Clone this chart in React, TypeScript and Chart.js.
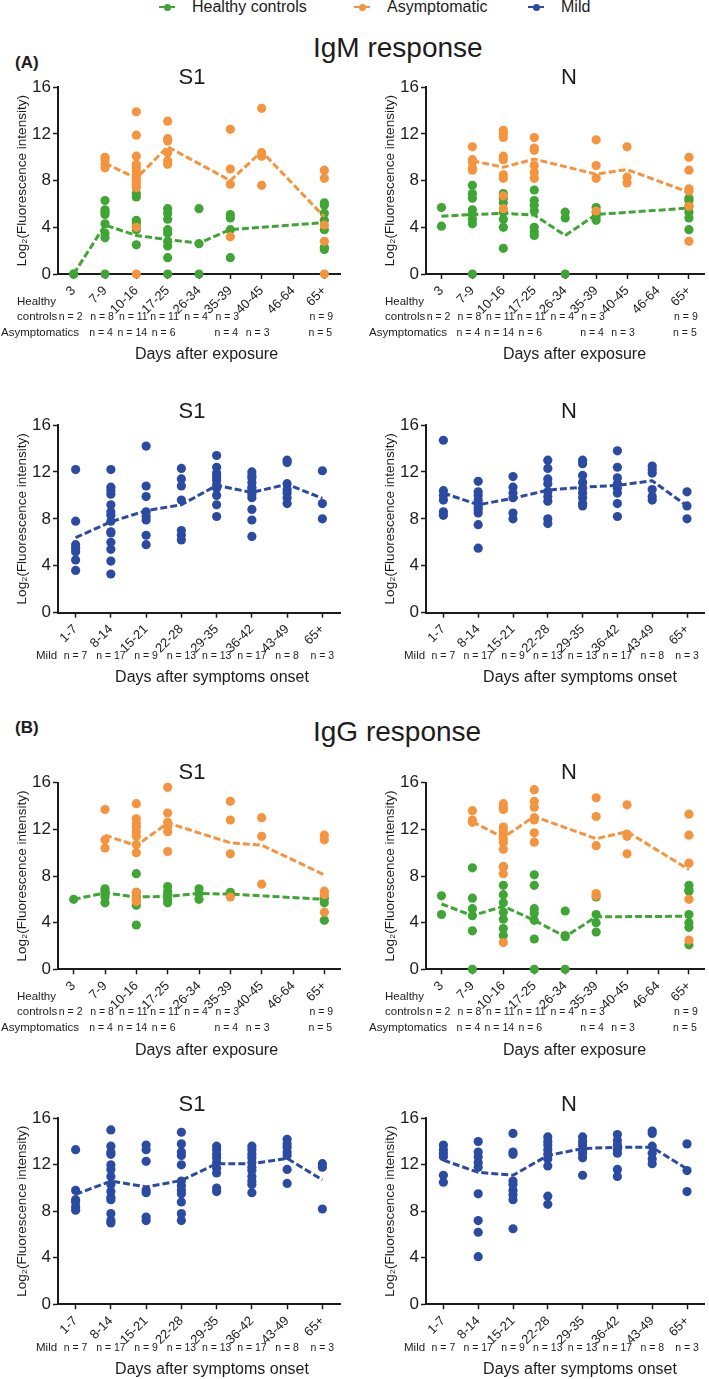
import React, { useEffect, useRef } from 'react';
import { Chart, registerables } from 'chart.js';

Chart.register(...registerables);

const FONT = 'Arial, "Liberation Sans", Helvetica, sans-serif';
const INK = '#1c1c1c';
const GREEN = '#3fa535';
const ORANGE = '#f5943f';
const BLUE = '#2b4ba2';

// ---------- categories & labels ----------
const exposureDays = ['3', '7-9', '10-16', '17-25', '26-34', '35-39', '40-45', '46-64', '65+'];
const onsetDays = ['1-7', '8-14', '15-21', '22-28', '29-35', '36-42', '43-49', '65+'];
const healthyN = ['n = 2', 'n = 8', 'n = 11', 'n = 11', 'n = 4', 'n = 3', '', '', 'n = 9'];
const asymptomaticN = ['', 'n = 4', 'n = 14', 'n = 6', '', 'n = 4', 'n = 3', '', 'n = 5'];
const mildN = ['n = 7', 'n = 17', 'n = 9', 'n = 13', 'n = 13', 'n = 17', 'n = 8', 'n = 3'];
const yTicks = [0, 4, 8, 12, 16];
const legendNames = ['Healthy controls', 'Asymptomatic', 'Mild'];

// ---------- IgM, S1, days after exposure ----------
const igmS1Healthy = [[0, 0], [6.3, 5.5, 5.3, 5.1, 4.3, 3.5, 3.1, 0], [6.9, 6.6, 4.6, 4.4, 4.1, 3.8, 2.5], [5.6, 5.2, 4.7, 3.8, 3.5, 2.8, 2.4, 1.4, 0], [5.6, 2.6, 0], [5.1, 4.8, 3.8, 1.4], [], [], [6.1, 5.9, 5.2, 4.6, 3.8, 2.3, 2.1]];
const igmS1HealthyMean = [0, 4.2, 3.3, 2.95, 2.65, 3.8, null, null, 4.4];
const igmS1Asym = [[], [10.0, 9.8, 9.4, 9.1], [13.9, 11.9, 10.1, 9.4, 9.1, 8.8, 8.5, 8.2, 7.9, 7.6, 7.4, 4.0, 0], [13.1, 11.6, 11.4, 10.4, 9.7, 9.4], [], [12.4, 9.0, 7.7, 3.2], [14.2, 10.4, 10.1, 7.6], [], [8.9, 8.2, 4.2, 2.8, 0]];
const igmS1AsymMean = [null, 9.5, 8.2, 10.9, null, 8.0, 10.5, null, 4.9];

// ---------- IgM, N, days after exposure ----------
const igmNHealthy = [[5.7, 4.1], [7.6, 6.9, 6.5, 5.5, 5.1, 4.7, 4.3, 0], [6.9, 6.5, 6.1, 5.3, 4.7, 4.0, 2.2], [7.2, 6.3, 5.9, 5.4, 4.0, 3.6, 3.3], [5.3, 4.8, 0], [5.7, 5.3, 4.9, 4.6], [], [], [6.5, 6.3, 5.8, 5.3, 4.8, 3.8]];
const igmNHealthyMean = [4.95, 5.1, 5.2, 5.05, 3.3, 5.1, null, null, 5.65];
const igmNAsym = [[], [10.9, 9.8, 9.6, 9.1, 8.9], [12.3, 12.0, 11.7, 10.1, 9.8, 8.5, 8.2, 6.7, 5.6], [11.7, 10.8, 10.6, 9.3, 8.7, 8.2], [], [11.5, 9.3, 8.2, 5.4], [10.9, 8.3, 7.8], [], [10.0, 8.9, 7.3, 7.1, 5.8, 2.8]];
const igmNAsymMean = [null, 9.7, 9.15, 9.85, null, 8.55, 8.95, null, 7.0];

// ---------- IgM, mild, days after onset ----------
const igmS1Mild = [[12.2, 7.8, 5.8, 5.5, 5.2, 4.5, 3.6], [12.2, 10.7, 10.4, 10.1, 9.2, 8.6, 8.3, 7.8, 6.9, 6.8, 6.0, 5.4, 4.4, 3.3], [14.2, 10.8, 9.9, 8.6, 8.2, 7.9, 6.6, 5.8], [12.3, 11.4, 10.8, 9.6, 7.0, 6.6, 6.2], [13.4, 12.4, 11.9, 11.6, 11.3, 10.9, 10.6, 10.0, 9.2, 8.2], [12.0, 11.7, 11.5, 11.1, 10.7, 10.5, 10.1, 9.8, 8.8, 7.9, 6.5], [13.0, 12.8, 11.0, 10.5, 10.2, 9.8, 9.3], [12.1, 9.3, 8.0]];
const igmS1MildMean = [6.4, 7.75, 8.7, 9.2, 10.85, 10.25, 10.95, 9.75];
const igmNMild = [[14.7, 10.4, 10.0, 9.6, 8.6, 8.3], [11.2, 10.3, 10.0, 9.6, 9.3, 9.0, 8.8, 8.5, 7.5, 5.5], [11.6, 10.7, 10.2, 9.8, 8.5, 8.0], [13.0, 12.3, 11.4, 11.0, 10.3, 9.9, 9.5, 8.0, 7.6], [13.0, 12.7, 11.7, 11.1, 10.6, 10.2, 9.8, 9.3, 9.1], [13.8, 12.4, 11.5, 11.0, 10.6, 10.2, 9.3, 8.2], [12.5, 12.2, 11.9, 10.5, 9.9, 9.6], [10.3, 9.1, 8.0]];
const igmNMildMean = [10.2, 9.2, 9.75, 10.45, 10.7, 10.85, 11.25, 9.1];

// ---------- IgG, S1, days after exposure ----------
const iggS1Healthy = [[6.0], [6.9, 6.7, 6.5, 6.2, 5.7], [8.2, 6.6, 6.2, 5.9, 5.5, 3.8], [7.1, 6.7, 6.4, 6.0, 5.7], [6.9, 6.5, 6.0], [6.6], [], [], [6.1, 5.7, 4.2]];
const iggS1HealthyMean = [6.0, 6.55, 6.2, 6.25, 6.5, 6.45, null, null, 6.0];
const iggS1Asym = [[], [13.7, 11.1, 10.4], [14.2, 12.9, 12.5, 12.2, 11.8, 11.4, 10.7, 10.0, 6.6, 6.1, 5.8], [15.6, 13.4, 12.6, 12.2, 11.8, 10.1], [], [14.4, 12.8, 9.9, 6.2], [13.0, 11.4, 7.3], [], [11.5, 11.1, 6.7, 6.4, 4.9]];
const iggS1AsymMean = [null, 11.5, 10.6, 12.55, null, 10.85, 10.65, null, 8.1];

// ---------- IgG, N, days after exposure ----------
const iggNHealthy = [[6.3, 4.7], [8.7, 6.1, 5.2, 4.6, 3.3, 0], [8.8, 7.2, 6.4, 5.7, 4.9, 4.3, 3.5, 2.9], [8.1, 7.2, 5.2, 4.8, 4.2, 2.6, 0], [5.0, 2.9, 2.8, 0], [6.2, 4.7, 4.0, 3.2], [], [], [7.2, 6.8, 6.7, 4.7, 4.0, 3.6, 2.1]];
const iggNHealthyMean = [5.6, 4.6, 5.4, 4.2, 2.8, 4.5, null, null, 4.55];
const iggNAsym = [[], [13.6, 12.8, 12.6], [14.2, 13.9, 13.7, 12.2, 11.9, 11.6, 11.2, 10.9, 10.3, 8.8, 8.2, 2.3], [15.4, 14.4, 13.9, 13.0, 12.8, 11.7, 10.9], [], [14.7, 13.1, 10.6, 6.5, 6.3], [14.1, 11.6, 11.4, 9.9], [], [13.3, 11.5, 9.1, 6.0, 2.5]];
const iggNAsymMean = [null, 12.65, 11.3, 13.1, null, 11.2, 11.8, null, 8.55];

// ---------- IgG, mild, days after onset ----------
const iggS1Mild = [[13.3, 9.8, 9.0, 8.8, 8.4, 8.1], [15.0, 13.6, 13.1, 12.9, 12.0, 11.6, 11.0, 10.3, 9.7, 9.2, 9.0, 7.8, 7.2, 7.0], [13.7, 13.3, 12.3, 9.8, 9.6, 7.5, 7.2], [14.8, 13.8, 13.1, 12.8, 12.0, 10.6, 10.2, 9.8, 9.5, 8.8, 7.8, 7.2], [13.6, 13.3, 12.9, 12.6, 12.2, 11.7, 11.3, 10.0, 9.7], [13.6, 13.3, 12.9, 12.6, 12.2, 11.8, 11.5, 11.0, 10.6, 10.3, 9.6], [14.2, 13.8, 13.5, 13.1, 12.8, 11.6, 10.4], [12.1, 11.8, 8.2]];
const iggS1MildMean = [9.45, 10.6, 10.1, 10.65, 12.1, 12.1, 12.55, 10.7];
const iggNMild = [[13.7, 13.3, 13.0, 12.7, 11.1, 10.5], [14.0, 13.1, 12.7, 12.2, 11.8, 9.5, 7.2, 6.2, 4.1], [14.7, 13.1, 12.9, 10.6, 10.3, 9.8, 9.4, 9.0, 6.5], [14.4, 14.0, 13.7, 13.3, 12.9, 12.5, 11.9, 9.3, 8.6], [14.4, 14.0, 13.7, 13.3, 13.0, 12.6, 11.1], [14.6, 14.1, 13.7, 13.3, 13.0, 11.6, 11.0], [14.9, 14.7, 13.6, 13.0, 12.5, 12.1], [13.8, 11.5, 9.7]];
const iggNMildMean = [12.4, 11.35, 11.1, 12.8, 13.4, 13.5, 13.5, 11.65];

// ---------- layout ----------
type Group = { color: string; dots: number[][]; mean: (number | null)[] };
type Row = { lines: string[]; n: string[]; dx: number; dy: number; shift: number };
type Panel = {
  title: string; labels: string[]; groups: Group[]; rows: Row[]; xTitle: string;
  box: number[]; area: number[]; titleX: number; titleY: number; xTitleDX: number; xTitleDY: number;
};

const exposureRows: Row[] = [
  { lines: ['Healthy', 'controls'], n: healthyN, dx: -41, dy: 43, shift: -3 },
  { lines: ['Asymptomatics'], n: asymptomaticN, dx: -57, dy: 59, shift: -4 },
];
const mildRows: Row[] = [{ lines: ['Mild'], n: mildN, dx: -22, dy: 43.5, shift: 0 }];

const COLS = [
  { x: 0, w: 354, left: 58, right: 340, titleX: 192 },
  { x: 354, w: 355, left: 426, right: 708, titleX: 569 },
];
const ROWS = [
  { top: 60, h: 306, areaTop: 87.3, areaBottom: 274, titleY: 78 },
  { top: 395, h: 292, areaTop: 425, areaBottom: 612.7, titleY: 412 },
  { top: 752, h: 308, areaTop: 782.7, areaBottom: 969.3, titleY: 773 },
  { top: 1090, h: 289, areaTop: 1118.3, areaBottom: 1304.3, titleY: 1105 },
];

function panel(r: number, c: number, title: string, exposure: boolean, groups: Group[]): Panel {
  const row = ROWS[r];
  const col = COLS[c];
  return {
    title,
    labels: exposure ? exposureDays : onsetDays,
    groups,
    rows: exposure ? exposureRows : mildRows,
    xTitle: exposure ? 'Days after exposure' : 'Days after symptoms onset',
    box: [col.x, row.top, col.w, row.h],
    area: [col.left, row.areaTop, col.right, row.areaBottom],
    titleX: col.titleX,
    titleY: row.titleY,
    xTitleDX: exposure ? 7.5 : 13,
    xTitleDY: exposure ? 81 : 65,
  };
}

const PANELS: Panel[] = [
  panel(0, 0, 'S1', true, [
    { color: GREEN, dots: igmS1Healthy, mean: igmS1HealthyMean },
    { color: ORANGE, dots: igmS1Asym, mean: igmS1AsymMean },
  ]),
  panel(0, 1, 'N', true, [
    { color: GREEN, dots: igmNHealthy, mean: igmNHealthyMean },
    { color: ORANGE, dots: igmNAsym, mean: igmNAsymMean },
  ]),
  panel(1, 0, 'S1', false, [{ color: BLUE, dots: igmS1Mild, mean: igmS1MildMean }]),
  panel(1, 1, 'N', false, [{ color: BLUE, dots: igmNMild, mean: igmNMildMean }]),
  panel(2, 0, 'S1', true, [
    { color: GREEN, dots: iggS1Healthy, mean: iggS1HealthyMean },
    { color: ORANGE, dots: iggS1Asym, mean: iggS1AsymMean },
  ]),
  panel(2, 1, 'N', true, [
    { color: GREEN, dots: iggNHealthy, mean: iggNHealthyMean },
    { color: ORANGE, dots: iggNAsym, mean: iggNAsymMean },
  ]),
  panel(3, 0, 'S1', false, [{ color: BLUE, dots: iggS1Mild, mean: iggS1MildMean }]),
  panel(3, 1, 'N', false, [{ color: BLUE, dots: iggNMild, mean: iggNMildMean }]),
];

function buildChart(canvas: HTMLCanvasElement, p: Panel) {
  const [cl, ct, cw, ch] = p.box;
  const [al, at, ar, ab] = p.area;
  const datasets: any[] = [];
  p.groups.forEach((g, gi) => {
    const base = (p.groups.length - gi) * 2;
    datasets.push({
      data: g.mean,
      borderColor: g.color,
      borderWidth: 3,
      borderDash: [7, 3],
      pointRadius: 0,
      spanGaps: true,
      fill: false,
      tension: 0,
      clip: false,
      order: base - 1,
    });
    const pts: { x: string; y: number }[] = [];
    g.dots.forEach((vals, i) => vals.forEach((v) => pts.push({ x: p.labels[i], y: v })));
    datasets.push({
      data: pts,
      showLine: false,
      pointRadius: 4.6,
      pointBackgroundColor: g.color,
      pointBorderWidth: 0,
      borderColor: g.color,
      clip: false,
      order: base,
    });
  });

  const textPlugin = {
    id: 'panelText',
    afterDraw(chart: any) {
      const ctx = chart.ctx as CanvasRenderingContext2D;
      const xs = chart.scales.x;
      ctx.save();
      ctx.fillStyle = INK;
      ctx.textBaseline = 'middle';
      ctx.textAlign = 'center';
      ctx.font = `22px ${FONT}`;
      ctx.fillText(p.title, p.titleX - cl, p.titleY - ct);

      ctx.save();
      ctx.translate(al - 36 - cl, (at + ab) / 2 - ct);
      ctx.rotate(-Math.PI / 2);
      ctx.font = `13.5px ${FONT}`;
      ctx.fillText('Log\u2082(Fluorescence intensity)', 0, 0);
      ctx.restore();

      for (const r of p.rows) {
        ctx.font = `11.5px ${FONT}`;
        ctx.textAlign = 'left';
        r.lines.forEach((line, li) => {
          const y = ab + r.dy - (r.lines.length - 1 - li) * 15 - ct;
          ctx.fillText(line, al + r.dx - cl, y);
        });
        ctx.font = `10.5px ${FONT}`;
        ctx.textAlign = 'center';
        r.n.forEach((t, i) => {
          if (t) ctx.fillText(t, xs.getPixelForValue(i) + r.shift, ab + r.dy - ct);
        });
      }
      ctx.font = `16px ${FONT}`;
      ctx.textAlign = 'center';
      ctx.fillText(p.xTitle, (al + ar) / 2 + p.xTitleDX - cl, ab + p.xTitleDY - ct);
      ctx.restore();
    },
  };

  return new Chart(canvas, {
    type: 'line',
    data: { labels: p.labels, datasets },
    plugins: [textPlugin],
    options: {
      responsive: false,
      animation: false,
      devicePixelRatio: 1,
      layout: { padding: { top: at - ct, right: cl + cw - ar, left: 0, bottom: 0 } },
      plugins: { legend: { display: false }, tooltip: { enabled: false }, title: { display: false } },
      scales: {
        x: {
          type: 'category',
          labels: p.labels,
          offset: true,
          grid: { display: true, drawOnChartArea: false, drawTicks: true, tickLength: 5, color: INK, tickWidth: 1.5, offset: false },
          border: { display: true, color: INK, width: 2 },
          ticks: { color: INK, font: { family: FONT, size: 13 }, minRotation: 45, maxRotation: 45, padding: 4, autoSkip: false },
          afterFit: (s: any) => { s.height = ct + ch - ab; },
        },
        y: {
          min: 0,
          max: 16,
          afterBuildTicks: (s: any) => { s.ticks = yTicks.map((v) => ({ value: v })); },
          ticks: { color: INK, font: { family: FONT, size: 17 }, padding: 2 },
          grid: { display: true, drawOnChartArea: false, drawTicks: true, tickLength: 5, color: INK, tickWidth: 1.5 },
          border: { display: true, color: INK, width: 2 },
          afterFit: (s: any) => { s.width = al - cl; },
        },
      },
    } as any,
  });
}

function LegendItem({ x, color, label }: { x: number; color: string; label: string }) {
  return (
    <>
      <div style={{ position: 'absolute', left: x - 8, top: 6, width: 16, height: 2, background: color }} />
      <div style={{ position: 'absolute', left: x - 3.5, top: 3.5, width: 7, height: 7, borderRadius: '50%', background: color }} />
      <div style={{ position: 'absolute', left: x + 25, top: -1, fontSize: 16, lineHeight: '16px', whiteSpace: 'nowrap' }}>{label}</div>
    </>
  );
}

export default function App() {
  const refs = useRef<(HTMLCanvasElement | null)[]>([]);
  useEffect(() => {
    document.body.style.margin = '0';
    const charts = PANELS.map((p, i) => buildChart(refs.current[i] as HTMLCanvasElement, p));
    return () => charts.forEach((c) => c.destroy());
  }, []);

  const legendX = [167, 362, 536];
  const legendColors = [GREEN, ORANGE, BLUE];

  return (
    <div style={{ position: 'absolute', left: 0, top: 0, width: 709, height: 1379, background: '#fff', fontFamily: FONT, color: INK, overflow: 'hidden' }}>
      {legendNames.map((n, i) => (
        <LegendItem key={n} x={legendX[i]} color={legendColors[i]} label={n} />
      ))}
      <div style={{ position: 'absolute', left: 15, top: 53.6, fontSize: 17, fontWeight: 'bold', lineHeight: '17px' }}>(A)</div>
      <div style={{ position: 'absolute', left: 313, top: 34.3, fontSize: 28, lineHeight: '28px', whiteSpace: 'nowrap' }}>IgM response</div>
      <div style={{ position: 'absolute', left: 15, top: 718.6, fontSize: 17, fontWeight: 'bold', lineHeight: '17px' }}>(B)</div>
      <div style={{ position: 'absolute', left: 313, top: 718.3, fontSize: 28, lineHeight: '28px', whiteSpace: 'nowrap' }}>IgG response</div>
      {PANELS.map((p, i) => (
        <canvas
          key={i}
          ref={(el) => { refs.current[i] = el; }}
          width={p.box[2]}
          height={p.box[3]}
          style={{ position: 'absolute', left: p.box[0], top: p.box[1], width: p.box[2], height: p.box[3] }}
        />
      ))}
    </div>
  );
}
